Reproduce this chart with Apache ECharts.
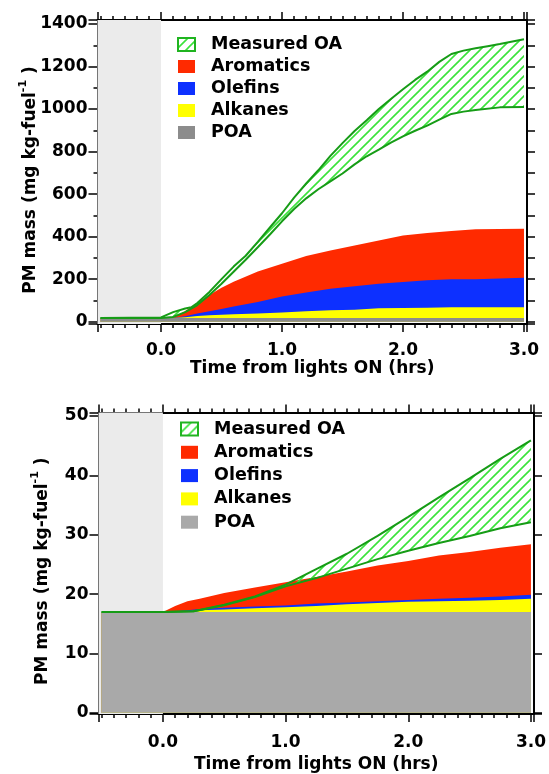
<!DOCTYPE html>
<html>
<head>
<meta charset="utf-8">
<script src="https://cdn.jsdelivr.net/npm/echarts@6/dist/echarts.min.js"></script>
<style>
  html, body { margin: 0; padding: 0; background: #fff; }
  #chart { width: 549px; height: 774px; }
</style>
</head>
<body>
<div id="chart"></div>
<script>
// ---- panel a) : model SOA contributions (mg kg-fuel^-1) vs time from lights ON (hrs)
const timeA      = [-0.5, 0, 0.1, 0.2, 0.3, 0.4, 0.5, 0.6, 0.8, 1.0, 1.2, 1.4, 1.6, 1.8, 2.0, 2.2, 2.4, 2.6, 2.8, 3.0];
const poaA       = [17, 17, 17, 17, 17, 17, 17, 17, 17, 17, 17, 17, 17, 17, 17, 17, 17, 17, 17, 17];
const alkanesA   = [0, 0, 0, 4, 10, 13, 15, 18, 21, 26, 32, 37, 39, 46, 47, 48, 51, 51, 51, 51];
const olefinsA   = [0, 0, 0, 4, 11, 19, 28, 36, 55, 75, 88, 101, 110, 115, 123, 130, 131, 132, 135, 139];
const aromaticsA = [0, 0, 0, 25, 50, 76, 100, 117, 143, 155, 172, 180, 192, 204, 218, 222, 228, 235, 233, 230];

// measured OA range (upper / lower bound)
const upperTimeA = [-0.5, 0, 0.1, 0.2, 0.25, 0.3, 0.4, 0.5, 0.6, 0.7, 0.8, 0.9, 1.0, 1.1, 1.2, 1.3, 1.4, 1.5, 1.6, 1.7, 1.8, 1.9, 2.0, 2.1, 2.2, 2.3, 2.4, 2.5, 2.6, 2.7, 2.8, 3.0];
const upperA     = [17, 20, 45, 62, 68, 88, 140, 200, 259, 310, 375, 443, 510, 583, 650, 712, 780, 840, 897, 947, 1000, 1047, 1093, 1137, 1176, 1222, 1259, 1275, 1286, 1296, 1306, 1328];
const lowerTimeA = [-0.5, 0, 0.1, 0.2, 0.3, 0.4, 0.5, 0.6, 0.7, 0.8, 0.9, 1.0, 1.1, 1.2, 1.3, 1.4, 1.5, 1.6, 1.7, 1.8, 1.9, 2.0, 2.1, 2.2, 2.3, 2.4, 2.5, 2.6, 2.8, 3.0];
const lowerA     = [17, 17, 22, 45, 78, 125, 178, 235, 291, 350, 410, 472, 530, 580, 623, 660, 697, 740, 778, 809, 842, 872, 898, 922, 950, 977, 988, 996, 1008, 1010];

// ---- panel b)
const timeB      = [-0.5, 0, 0.1, 0.2, 0.3, 0.5, 0.75, 1.0, 1.25, 1.5, 1.75, 2.0, 2.25, 2.5, 2.75, 3.0];
const poaB       = [17, 17, 17, 17, 17, 17, 17, 17, 17, 17, 17, 17, 17, 17, 17, 17];
const alkanesB   = [0, 0, 0, 0.1, 0.3, 0.4, 0.6, 0.8, 1.0, 1.3, 1.5, 1.7, 1.8, 1.9, 2.0, 2.2];
const olefinsB   = [0, 0, 0.1, 0.2, 0.2, 0.3, 0.3, 0.3, 0.4, 0.3, 0.3, 0.3, 0.4, 0.5, 0.6, 0.7];
const aromaticsB = [0, 0, 0.9, 1.5, 1.7, 2.5, 3.2, 3.9, 4.5, 5.2, 6.0, 6.6, 7.3, 7.7, 8.2, 8.5];

const upperTimeB = [-0.5, 0, 0.25, 0.5, 0.75, 1.0, 1.25, 1.5, 1.75, 2.0, 2.25, 2.5, 2.75, 3.0];
const upperB     = [17, 17, 17.1, 18.2, 19.6, 21.6, 24.2, 26.8, 29.8, 33.0, 36.3, 39.5, 42.8, 45.9];
const lowerTimeB = [-0.5, 0, 0.25, 0.5, 0.75, 1.0, 1.25, 1.5, 1.75, 2.0, 2.25, 2.5, 2.75, 3.0];
const lowerB     = [17, 17, 17.1, 18.1, 19.5, 21.3, 22.7, 24.3, 25.9, 27.3, 28.6, 29.8, 31.1, 32.1];

const legendNames = ['Measured OA', 'Aromatics', 'Olefins', 'Alkanes', 'POA'];

const X_MIN = -0.525, X_MAX = 3.025;
const FONT = 'DejaVu Sans';
const RED = '#ff2a00', BLUE = '#0d30ff', YELLOW = '#ffff00';
const LINE_GREEN = '#169c16', HATCH_GREEN = '#3ae33a';

function makeHatch() {
  const s = 10, c = document.createElement('canvas');
  c.width = s; c.height = s;
  const g = c.getContext('2d');
  g.strokeStyle = HATCH_GREEN; g.lineWidth = 1.6;
  g.beginPath();
  g.moveTo(0, s); g.lineTo(s, 0);
  g.moveTo(-1, 1); g.lineTo(1, -1);
  g.moveTo(s - 1, s + 1); g.lineTo(s + 1, s - 1);
  g.stroke();
  return { image: c, repeat: 'repeat' };
}
const hatch = makeHatch();

const pairs = (ts, vs) => ts.map((t, i) => [t, vs[i]]);
// running total of the layers, so each band sits on the ones below it
const cumulative = (...layers) => layers[0].map((_, i) => layers.reduce((s, a) => s + a[i], 0));
const boldText = (size) => ({ color: '#000', fontFamily: FONT, fontWeight: 'bold', fontSize: size });

function xAxes(grid, labelMargin, nameGap) {
  const tick = { length: 8, lineStyle: { color: '#000', width: 1.5 } };
  const minor = { show: true, splitNumber: 10, length: 4, lineStyle: { color: '#000', width: 1.5 } };
  const line = { onZero: false, lineStyle: { color: '#000', width: 2 } };
  return [{
    type: 'value', gridIndex: grid, position: 'bottom', min: X_MIN, max: X_MAX,
    minInterval: 1, maxInterval: 1,
    axisLine: line, axisTick: tick, minorTick: minor, splitLine: { show: false },
    axisLabel: Object.assign(boldText(17), { margin: labelMargin,
      formatter: v => Math.abs(v - Math.round(v)) < 1e-6 ? v.toFixed(1) : '' }),
    name: 'Time from lights ON (hrs)', nameLocation: 'middle', nameGap: nameGap, nameMoveOverlap: false,
    nameTextStyle: boldText(17)
  }, {
    type: 'value', gridIndex: grid, position: 'top', min: X_MIN, max: X_MAX,
    minInterval: 1, maxInterval: 1,
    axisLine: line, axisTick: tick, minorTick: minor, splitLine: { show: false },
    axisLabel: { show: false }
  }];
}

function yAxes(grid, min, max, step, minorSplit, nameGap) {
  const line = { onZero: false, lineStyle: { color: '#000', width: 2 } };
  const rich = {
    a: { fontFamily: FONT, fontWeight: 'bold', fontSize: 17, color: '#000', lineHeight: 22, verticalAlign: 'bottom' },
    s: { fontFamily: FONT, fontWeight: 'bold', fontSize: 11, color: '#000', lineHeight: 12, verticalAlign: 'top' }
  };
  return [{
    type: 'value', gridIndex: grid, position: 'left', min: min, max: max,
    minInterval: step, maxInterval: step, splitNumber: 7,
    axisLine: line, axisTick: { length: 9, lineStyle: { color: '#000', width: 1.5 } },
    minorTick: { show: minorSplit > 0, splitNumber: minorSplit || 5, length: 4, lineStyle: { color: '#000', width: 1.5 } },
    splitLine: { show: false },
    axisLabel: Object.assign(boldText(17), { margin: 10,
      formatter: v => Math.abs(v / step - Math.round(v / step)) < 1e-6 ? String(Math.round(v)) : '' }),
    name: '{a|PM mass (mg kg-fuel}{s|-1}{a| )}', nameLocation: 'middle', nameGap: nameGap, nameMoveOverlap: false,
    nameTextStyle: { rich: rich, padding: [0, 16, 0, 0] }
  }, {
    type: 'value', gridIndex: grid, position: 'right', min: min, max: max,
    minInterval: step, maxInterval: step, splitNumber: 7,
    axisLine: line, axisTick: { length: 8, lineStyle: { color: '#000', width: 1.5 } },
    minorTick: { show: minorSplit > 0, splitNumber: minorSplit || 5, length: 8, lineStyle: { color: '#000', width: 1.5 } },
    splitLine: { show: false }, axisLabel: { show: false }
  }];
}

function panelSeries(xi, yi, d, poaColor) {
  const area = (name, vs, color) => ({
    type: 'line', name: name, xAxisIndex: xi, yAxisIndex: yi,
    data: pairs(d.time, vs), symbol: 'none', silent: true, z: 3,
    lineStyle: { width: 0 }, itemStyle: { color: color },
    areaStyle: { color: color, opacity: 1 }
  });
  // tallest band first, each following one painted over it
  const aro = area('Aromatics', cumulative(d.poa, d.alk, d.ole, d.aro), RED);
  aro.markArea = { silent: true, itemStyle: { color: '#ebebeb' }, data: [[{ xAxis: X_MIN }, { xAxis: 0 }]] };
  return [
    aro,
    area('Olefins', cumulative(d.poa, d.alk, d.ole), BLUE),
    area('Alkanes', cumulative(d.poa, d.alk), YELLOW),
    area('POA', d.poa, poaColor),
    {
      type: 'custom', name: 'Measured OA', xAxisIndex: xi, yAxisIndex: yi, z: 4, silent: true,
      data: [[0, 0]], itemStyle: { color: hatch },
      renderItem: (params, api) => {
        const pts = d.upT.map((t, i) => api.coord([t, d.up[i]]));
        for (let i = d.loT.length - 1; i >= 0; i--) pts.push(api.coord([d.loT[i], d.lo[i]]));
        return { type: 'polygon', shape: { points: pts }, style: { fill: hatch } };
      }
    },
    { type: 'line', name: 'OA upper', xAxisIndex: xi, yAxisIndex: yi, data: pairs(d.upT, d.up),
      symbol: 'none', silent: true, z: 5, lineStyle: { color: LINE_GREEN, width: 2 }, itemStyle: { color: LINE_GREEN } },
    { type: 'line', name: 'OA lower', xAxisIndex: xi, yAxisIndex: yi, data: pairs(d.loT, d.lo),
      symbol: 'none', silent: true, z: 5, lineStyle: { color: LINE_GREEN, width: 2 }, itemStyle: { color: LINE_GREEN } }
  ];
}

function legendFor(left, top, gap, poaColor) {
  const colors = { 'Aromatics': RED, 'Olefins': BLUE, 'Alkanes': YELLOW, 'POA': poaColor };
  return {
    orient: 'vertical', left: left, top: top, itemWidth: 17, itemHeight: 13, itemGap: gap,
    selectedMode: false, padding: 0,
    textStyle: Object.assign(boldText(17.5), { lineHeight: 13, padding: [0, 0, 0, 11] }),
    data: legendNames.map(n => n === 'Measured OA'
      ? { name: n, icon: 'rect', itemStyle: { color: hatch, borderColor: '#20b420', borderWidth: 2 } }
      : { name: n, icon: 'rect', itemStyle: { color: colors[n], borderWidth: 0 } })
  };
}

const chart = echarts.init(document.getElementById('chart'), null, { renderer: 'canvas' });
chart.setOption({
  animation: false,
  backgroundColor: '#fff',
  grid: [
    { left: 97.5, right: 22, top: 20, height: 304 },
    { left: 98.5, right: 14.5, top: 412.5, height: 302.5 }
  ],
  xAxis: [...xAxes(0, 18, 36), ...xAxes(1, 20, 42)],
  yAxis: [...yAxes(0, -11, 1419, 200, 2, 58), ...yAxes(1, -0.2, 50.6, 10, 0, 47)],
  legend: [legendFor(177, 35.5, 4, '#8c8c8c'), legendFor(180, 420, 5.3, '#a9a9a9')],
  graphic: [
    { type: 'text', left: 106, top: 35, style: { text: 'a)', font: 'bold 17.5px "DejaVu Sans"', fill: '#000' } },
    { type: 'text', left: 107, top: 428, style: { text: 'b)', font: 'bold 17.5px "DejaVu Sans"', fill: '#000' } }
  ],
  series: [
    ...panelSeries(0, 0, { time: timeA, poa: poaA, alk: alkanesA, ole: olefinsA, aro: aromaticsA,
      upT: upperTimeA, up: upperA, loT: lowerTimeA, lo: lowerA }, '#8c8c8c'),
    ...panelSeries(2, 2, { time: timeB, poa: poaB, alk: alkanesB, ole: olefinsB, aro: aromaticsB,
      upT: upperTimeB, up: upperB, loT: lowerTimeB, lo: lowerB }, '#a9a9a9')
  ]
});
</script>
</body>
</html>
